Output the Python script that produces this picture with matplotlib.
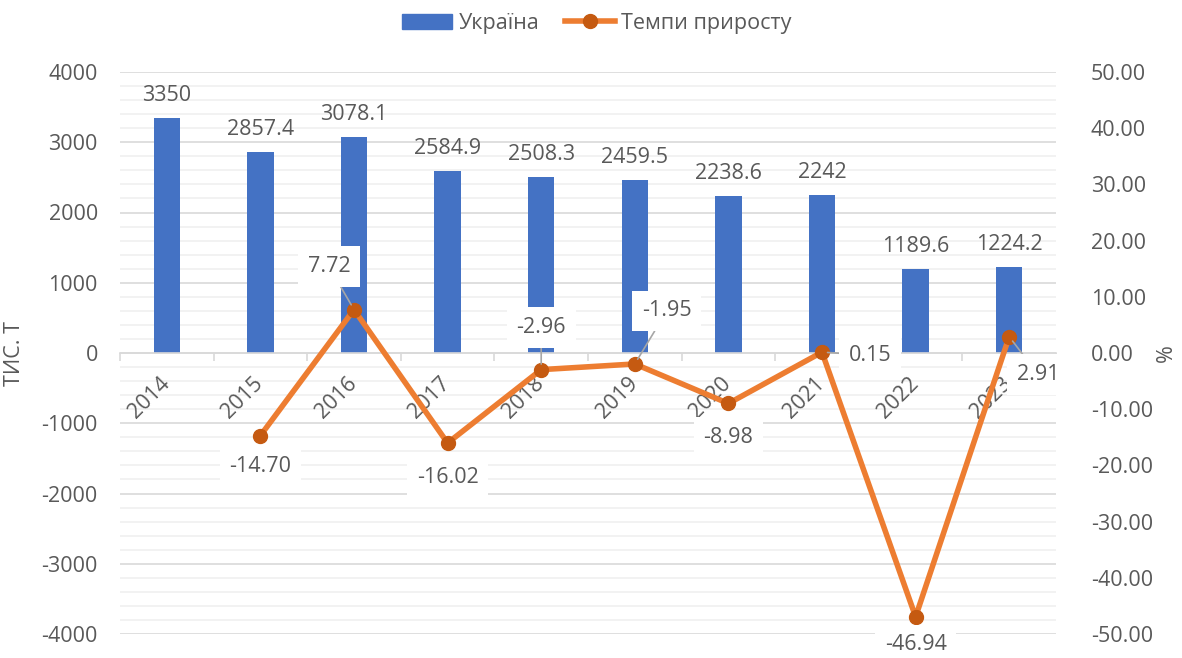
import matplotlib
matplotlib.use("Agg")
import matplotlib.pyplot as plt
import numpy as np
from matplotlib.lines import Line2D
from matplotlib.patches import Patch

years = ["2014", "2015", "2016", "2017", "2018", "2019", "2020", "2021", "2022", "2023"]
ukraine = [3350, 2857.4, 3078.1, 2584.9, 2508.3, 2459.5, 2238.6, 2242, 1189.6, 1224.2]
growth = [np.nan, -14.70, 7.72, -16.02, -2.96, -1.95, -8.98, 0.15, -46.94, 2.91]
growth_labels = ["", "-14.70", "7.72", "-16.02", "-2.96", "-1.95", "-8.98", "0.15", "-46.94", "2.91"]
bar_labels = ["3350", "2857.4", "3078.1", "2584.9", "2508.3", "2459.5", "2238.6", "2242", "1189.6", "1224.2"]
left_ticks = [-4000, -3000, -2000, -1000, 0, 1000, 2000, 3000, 4000]
right_ticks = [-50, -40, -30, -20, -10, 0, 10, 20, 30, 40, 50]

# label offsets in pixels (dx, dy) and whether to draw a leader line
label_offsets = [(0, 0), (0, -31), (-25, 43), (0, -34), (0, 42), (32, 53), (0, -34), (48, -3), (0, -28), (29, -38)]
label_leader = [False, False, True, False, True, True, False, True, False, True]

plt.rcParams['font.family'] = ['Open Sans', 'DejaVu Sans']
TXT = '#595959'
BLUE = '#4472C4'
ORANGE = '#ED7D31'
DARKOR = '#C55A11'
FS = 15.5

fig = plt.figure(figsize=(11.82, 6.58), dpi=100)
ax1 = fig.add_axes([120/1182, (658-634)/658, (1056-120)/1182, 562/658])
ax2 = ax1.twinx()

x = np.arange(len(years))
ax1.bar(x, ukraine, width=0.28, color=BLUE, zorder=2)
ax1.set_xlim(-0.5, len(years) - 0.5)
ax1.set_ylim(-4000, 4000)
ax1.set_yticks(left_ticks)
ax1.set_yticklabels([str(v) for v in left_ticks])
ax1.set_yticks(np.arange(-4000, 4001, 200), minor=True)
ax1.tick_params(axis='y', which='both', length=0, labelsize=FS, colors=TXT, pad=16)
ax1.grid(axis='y', which='major', color='#d9d9d9', linewidth=1.2, zorder=0)
ax1.grid(axis='y', which='minor', color='#f0f0f0', linewidth=1.2, zorder=0)
ax1.set_axisbelow(True)

ax1.set_xticks(np.arange(-0.5, len(years), 1.0))
ax1.set_xticklabels([])
ax1.tick_params(axis='x', which='major', length=6, color='#d9d9d9', width=1.2)
for s in ['top', 'left', 'right']:
    ax1.spines[s].set_visible(False)
ax1.spines['bottom'].set_position(('data', 0))
ax1.spines['bottom'].set_color('#d9d9d9')
ax1.spines['bottom'].set_linewidth(1.2)

for i, (v, t) in enumerate(zip(ukraine, bar_labels)):
    ax1.annotate(t, xy=(i, v), xytext=(0, 12), textcoords='offset pixels',
                 ha='center', va='bottom', fontsize=FS, color=TXT)

for i, y in enumerate(years):
    ax1.annotate(y, xy=(i, 0), xytext=(7, -20), textcoords='offset pixels',
                 rotation=45, ha='right', va='top', fontsize=FS, color=TXT, zorder=1)

ax1.set_ylabel("ТИС. Т", fontsize=FS, color=TXT, labelpad=12)

ax2.plot(x, growth, color=ORANGE, linewidth=4, marker='o', markersize=10,
         markerfacecolor=DARKOR, markeredgecolor=DARKOR, zorder=3)
ax2.set_ylim(-50, 50)
ax2.set_yticks(right_ticks)
ax2.set_yticklabels([f"{v:.2f}" for v in right_ticks])
ax2.tick_params(axis='y', length=0, labelsize=FS, colors=TXT, pad=25)
for s in ['top', 'left', 'right', 'bottom']:
    ax2.spines[s].set_visible(False)
ax2.set_ylabel("%", fontsize=FS, color=TXT, labelpad=2)

for i, (v, t) in enumerate(zip(growth, growth_labels)):
    if not t:
        continue
    dx, dy = label_offsets[i]
    kw = {}
    if label_leader[i]:
        kw['arrowprops'] = dict(arrowstyle='-', color='#a6a6a6', lw=1.2, shrinkA=0, shrinkB=4)
    ax2.annotate(t, xy=(i, v), xytext=(dx, dy), textcoords='offset pixels',
                 ha='center', va='center', fontsize=FS, color=TXT, zorder=5,
                 bbox=dict(boxstyle='square,pad=0.45', facecolor='white', edgecolor='none'),
                 **kw)

handles = [Patch(facecolor=BLUE, edgecolor=BLUE, label='Україна'),
           Line2D([0], [0], color=ORANGE, linewidth=4, marker='o', markersize=10,
                  markerfacecolor=DARKOR, markeredgecolor=DARKOR, label='Темпи приросту')]
fig.legend(handles=handles, loc='upper center', bbox_to_anchor=(0.505, 1.01), ncol=2,
           frameon=False, fontsize=FS, labelcolor=TXT, handlelength=2.3, columnspacing=1.2,
           handletextpad=0.3)

fig.savefig('out.png', dpi=100)
